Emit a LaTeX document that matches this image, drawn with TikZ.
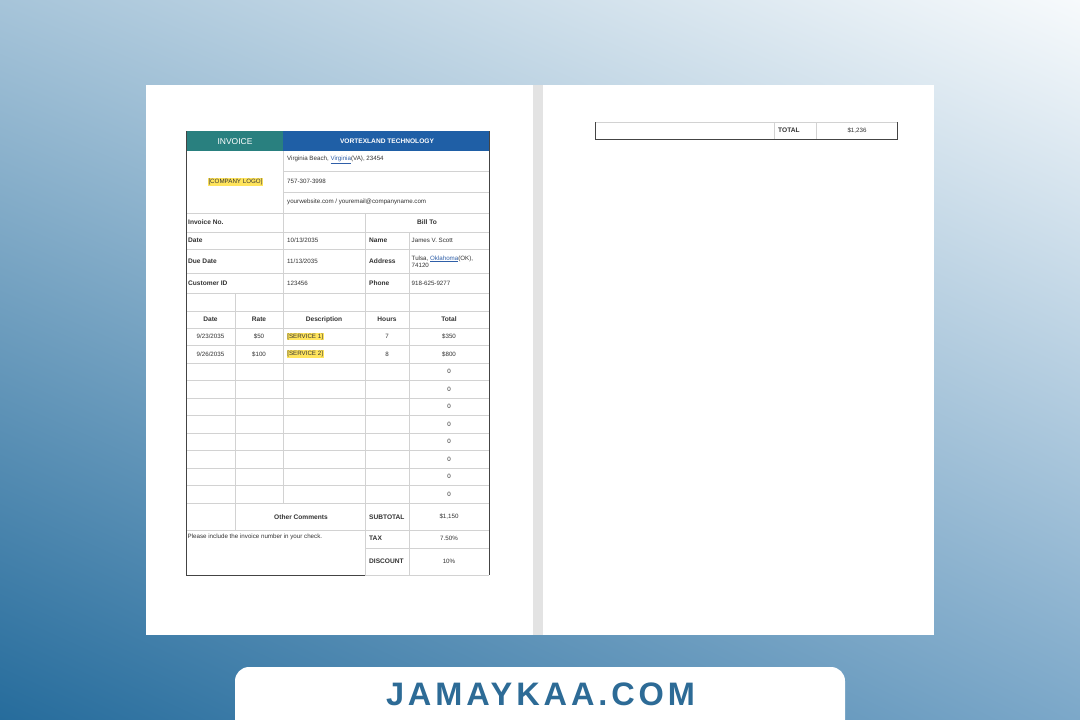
\documentclass[tikz,border=0pt]{standalone}
\usepackage{fontspec}
\setmainfont{Liberation Sans}
\newfontfamily\bannerfont[LetterSpace=12.0]{Liberation Sans}
\usetikzlibrary{positioning, calc, shadings}
\definecolor{teal1}{HTML}{29807F}
\definecolor{blue1}{HTML}{1F5FA6}
\definecolor{gridgray}{HTML}{D2D2D2}
\definecolor{edgegray}{HTML}{444444}
\definecolor{marker}{HTML}{FFE45C}
\definecolor{linkblue}{HTML}{2F5FA8}
\definecolor{brand}{HTML}{2D6B96}
\definecolor{bgUL}{HTML}{A6C4D9}
\definecolor{bgUR}{HTML}{F7FAFC}
\definecolor{bgLL}{HTML}{266C9C}
\definecolor{bgLR}{HTML}{7CA8C9}
\tikzset{
  sheet/.style={
	x=1pt, y=-1pt, % pixel grid, y runs downwards
	every node/.style={inner sep=0pt, text=black!80, font=\fontsize{6.2}{7.2}\selectfont}, % plain cell text
  },
  cellL/.style={anchor=west}, % text set from the left of a cell
  head/.style={font=\bfseries\fontsize{6.6}{7.6}\selectfont}, % bold label of a cell
  hilite/.style={fill=marker, inner xsep=0.6pt, inner ysep=1pt}, % yellow highlight
  thin grid/.style={draw=gridgray, line width=0.5pt}, % light lines of the sheet
  frame/.style={draw=edgegray, line width=0.8pt}, % dark outer border
}
\newcommand{\lnk}[1]{\textcolor{linkblue}{\underline{#1}}}
\begin{document}
\begin{tikzpicture}[sheet]
\useasboundingbox (0,0) rectangle (1080,720);
% background and pages
\shade[upper left=bgUL, upper right=bgUR, lower left=bgLL, lower right=bgLR]
  (0,0) rectangle (1080,720);
\fill[white] (146,85) rectangle (934,635);
\fill[black!11] (533,85) rectangle (543,635);

% header band
\fill[teal1] (186,131) rectangle (283,151);
\fill[blue1] (283,131) rectangle (489,151);

% light grid
\draw[thin grid]
	(283,171) -- (489,171)  (283,192) -- (489,192)
	(186,213) -- (489,213)  (186,232) -- (489,232)
	(186,249) -- (489,249)  (186,273) -- (489,273)
	(186,293) -- (489,293)  (186,311) -- (489,311)
	(186,328) -- (489,328)  (186,345) -- (489,345)
	(186,363) -- (489,363)  (186,380.5) -- (489,380.5)
	(186,398) -- (489,398)  (186,415.5) -- (489,415.5)
	(186,433) -- (489,433)  (186,450.5) -- (489,450.5)
	(186,468) -- (489,468)  (186,485.5) -- (489,485.5)
	(186,503) -- (489,503)  (186,530) -- (489,530)
	(365,548) -- (489,548)  (365,575) -- (489,575)
	(283,151) -- (283,503)  (235,293) -- (235,530)
	(365,213) -- (365,575)  (409,232) -- (409,575)
;
\draw[frame] (186,131) -- (186,575) -- (365,575)
	(489,131) -- (489,575);

% top block
\node (inv) at (235,141.5) {\textcolor{white}{\fontsize{8.5}{10}\selectfont INVOICE}};
\node[head] (firm) at (387,141.5) {\textcolor{white}{VORTEXLAND TECHNOLOGY}};
\node[hilite] (logo) at (235.5,182) {[COMPANY LOGO]};
\node[cellL] (addr) at (287,160) {Virginia Beach, \lnk{Virginia}(VA), 23454};
\node[cellL] (tel) at (287,181) {757-307-3998};
\node[cellL] (web) at (287,202) {yourwebsite.com / youremail@companyname.com};

% invoice data
\node[cellL, head] (invno) at (188,222.5) {Invoice No.};
\node[head] (billto) at (427,222.5) {Bill To};
\node[cellL, head] (date) at (188,240.5) {Date};
\node[cellL] (dateV) at (287,240.5) {10/13/2035};
\node[cellL, head] (name) at (369,240.5) {Name};
\node[cellL] (nameV) at (411.5,240.5) {James V. Scott};
\node[cellL, head] (due) at (188,261.5) {Due Date};
\node[cellL] (dueV) at (287,261.5) {11/13/2035};
\node[cellL, head] (adr) at (369,261.5) {Address};
\node[cellL, align=left] (adrV) at (411.5,261.5) {Tulsa, \lnk{Oklahoma}(OK),\\74120};
\node[cellL, head] (cid) at (188,283.5) {Customer ID};
\node[cellL] (cidV) at (287,283.5) {123456};
\node[cellL, head] (ph) at (369,283.5) {Phone};
\node[cellL] (phV) at (411.5,283.5) {918-625-9277};

% item table
\node[head] (hDate) at (210.5,319.5) {Date};
\node[head] (hRate) at (259,319.5) {Rate};
\node[head] (hDesc) at (324,319.5) {Description};
\node[head] (hHours) at (387,319.5) {Hours};
\node[head] (hTotal) at (449,319.5) {Total};
\node (d1) at (210.5,336.5) {9/23/2035};
\node (r1) at (259,336.5) {\$50};
\node[cellL, hilite] (s1) at (286.5,336.5) {[SERVICE 1]};
\node (h1) at (387,336.5) {7};
\node (t1) at (449,336.5) {\$350};
\node (d2) at (210.5,354) {9/26/2035};
\node (r2) at (259,354) {\$100};
\node[cellL, hilite] (s2) at (286.5,354) {[SERVICE 2]};
\node (h2) at (387,354) {8};
\node (t2) at (449,354) {\$800};
\node (t3) at (449,371.8) {0};
\node (t4) at (449,389.3) {0};
\node (t5) at (449,406.8) {0};
\node (t6) at (449,424.3) {0};
\node (t7) at (449,441.8) {0};
\node (t8) at (449,459.3) {0};
\node (t9) at (449,476.8) {0};
\node (t10) at (449,494.3) {0};

% totals
\node[head] (oc) at (301,517) {Other Comments};
\node[cellL, head] (sub) at (369,517) {SUBTOTAL};
\node (subV) at (449,517) {\$1,150};
\node[cellL] (note) at (187.5,537) {Please include the invoice number in your check.};
\node[cellL, head] (tax) at (369,538.5) {TAX};
\node (taxV) at (449,538.5) {7.50\%};
\node[cellL, head] (disc) at (369,561) {DISCOUNT};
\node (discV) at (449,561) {10\%};

% second page
\draw[thin grid] (595,122) -- (897,122) (774,122) -- (774,139) (816,122) -- (816,139);
\draw[frame] (595,122) -- (595,139) -- (897,139) -- (897,122);
\node[cellL, head] (tot) at (778,130.5) {TOTAL};
\node (totV) at (857,130.5) {\$1,236};

% banner
\fill[white, rounded corners=14pt] (235,667) rectangle (845,745);
\node (brand) at (540.5,694) {\textcolor{brand}{\bannerfont\bfseries\fontsize{32.5}{36}\selectfont JAMAYKAA.COM}};
\end{tikzpicture}
\end{document}
